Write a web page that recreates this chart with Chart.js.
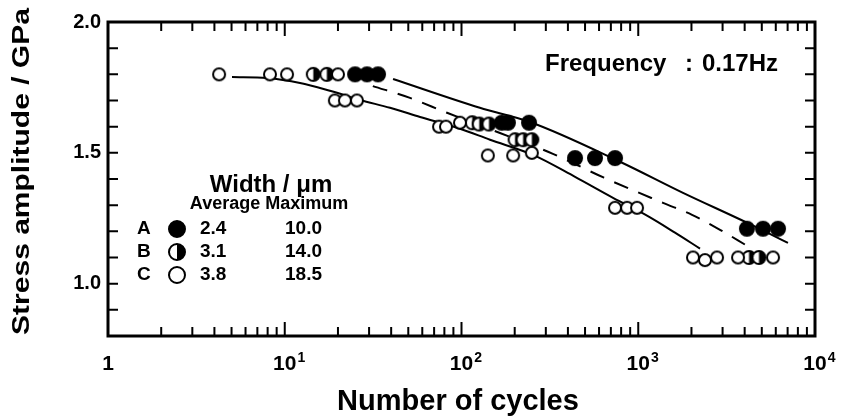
<!DOCTYPE html>
<html>
<head>
<meta charset="utf-8">
<script src="https://cdn.jsdelivr.net/npm/chart.js@4.4.1/dist/chart.umd.min.js"></script>
<style>
html, body { margin: 0; padding: 0; background: #fff; }
canvas { display: block; }
</style>
</head>
<body>
<canvas id="chart_dest" width="844" height="419"></canvas>
<script>
// measured points, A = filled, B = half filled, C = open
var cyclesA = [25, 29.2, 33.7, 169, 183, 241, 439, 569, 739, 4120, 5080, 6180];
var stressA = [1.80, 1.80, 1.80, 1.615, 1.615, 1.615, 1.48, 1.48, 1.48, 1.21, 1.21, 1.21];

var cyclesB = [14.5, 17.3, 115, 126, 143, 201, 223, 250, 4235, 4820];
var stressB = [1.80, 1.80, 1.615, 1.61, 1.61, 1.55, 1.55, 1.55, 1.10, 1.10];

var cyclesC = [4.25, 8.25, 10.3, 20.0, 19.2, 21.9, 25.6, 74.6, 81.7, 98, 141, 196, 250,
               739, 865, 984, 2040, 2385, 2790, 3670, 5790];
var stressC = [1.80, 1.80, 1.80, 1.80, 1.70, 1.70, 1.70, 1.60, 1.60, 1.615, 1.49, 1.49, 1.50,
               1.29, 1.29, 1.29, 1.10, 1.09, 1.10, 1.10, 1.10];

// curves drawn through each group
var curveAN = [41, 127, 244, 788, 1792, 4120, 7030];
var curveAS = [1.782, 1.672, 1.618, 1.466, 1.347, 1.233, 1.156];

var curveBN = [31.5, 51.1, 82.8, 165, 329, 640, 1380, 2015, 2900, 4120];
var curveBS = [1.755, 1.710, 1.653, 1.576, 1.496, 1.405, 1.309, 1.263, 1.206, 1.145];

var curveCN = [5.03, 7.94, 12.2, 18.0, 26.7, 39.4, 58.3, 98.1, 145, 254, 439, 720, 1121, 1614, 2236];
var curveCS = [1.790, 1.786, 1.767, 1.737, 1.702, 1.672, 1.637, 1.592, 1.550, 1.492, 1.408, 1.328, 1.260, 1.195, 1.134];

// axis ticks
var xTickVals = [1, 10, 100, 1000, 10000];
var xTickBase = ['1', '10', '10', '10', '10'];
var xTickExp = ['', '1', '2', '3', '4'];
var yTickVals = [1.0, 1.5, 2.0];
var yTickLabels = ['1.0', '1.5', '2.0'];

// legend table
var legendKeys = ['A', 'B', 'C'];
var legendAvg = ['2.4', '3.1', '3.8'];
var legendMax = ['10.0', '14.0', '18.5'];

var FONT = "'Liberation Sans', Arial, Helvetica, sans-serif";

function makeMarker(kind, r) {
  var c = document.createElement('canvas');
  var s = Math.ceil(2 * r + 4);
  c.width = s; c.height = s;
  var g = c.getContext('2d');
  var m = s / 2;
  g.lineWidth = 2;
  g.strokeStyle = '#000';
  g.fillStyle = '#fff';
  g.beginPath(); g.arc(m, m, r, 0, 2 * Math.PI); g.fill();
  if (kind === 'A') {
    g.fillStyle = '#000'; g.fill();
  } else if (kind === 'B') {
    g.fillStyle = '#000';
    g.beginPath(); g.arc(m, m, r, -Math.PI / 2, Math.PI / 2); g.closePath(); g.fill();
  }
  g.beginPath(); g.arc(m, m, r, 0, 2 * Math.PI); g.stroke();
  return c;
}

var markA = makeMarker('A', 7);
var markB = makeMarker('B', 6.5);
var markC = makeMarker('C', 6);
var legendMarks = [makeMarker('A', 8), makeMarker('B', 8), makeMarker('C', 8)];

function pts(xs, ys) {
  return xs.map(function (x, i) { return { x: x, y: ys[i] }; });
}

function curve(xs, ys, dash) {
  return {
    data: pts(xs, ys),
    showLine: true,
    borderColor: '#000',
    borderWidth: 2,
    borderDash: dash,
    pointRadius: 0,
    cubicInterpolationMode: 'monotone',
    order: 2
  };
}

function marks(xs, ys, img) {
  return {
    data: pts(xs, ys),
    showLine: false,
    pointStyle: img,
    pointRadius: 7,
    order: 1
  };
}

// frame, inward ticks and all the texts
var decorPlugin = {
  id: 'decor',
  afterDraw: function (chart) {
    var ctx = chart.ctx;
    var xs = chart.scales.x, ys = chart.scales.y;
    var a = chart.chartArea;
    ctx.save();
    ctx.strokeStyle = '#000';
    ctx.fillStyle = '#000';

    // ticks
    ctx.lineWidth = 2;
    ctx.beginPath();
    for (var v = 8; v <= 20; v++) {
      var py = ys.getPixelForValue(v / 10);
      ctx.moveTo(a.left, py); ctx.lineTo(a.left + 10, py);
      ctx.moveTo(a.right, py); ctx.lineTo(a.right - 10, py);
    }
    for (var d = 0; d < 4; d++) {
      for (var k = 1; k <= 10; k++) {
        var px = xs.getPixelForValue(k * Math.pow(10, d));
        var len = (k === 1 || k === 10) ? 14 : 9;
        ctx.moveTo(px, a.bottom); ctx.lineTo(px, a.bottom - len);
        ctx.moveTo(px, a.top); ctx.lineTo(px, a.top + len);
      }
    }
    ctx.stroke();

    // frame
    ctx.lineWidth = 3;
    ctx.strokeRect(a.left, a.top, a.right - a.left, a.bottom - a.top);

    // y tick labels
    ctx.font = 'bold 20px ' + FONT;
    ctx.textAlign = 'right';
    ctx.textBaseline = 'middle';
    yTickLabels.forEach(function (t, i) {
      ctx.fillText(t, a.left - 7, ys.getPixelForValue(yTickVals[i]));
    });

    // x tick labels with exponents
    ctx.textBaseline = 'alphabetic';
    xTickVals.forEach(function (v, i) {
      var px = xs.getPixelForValue(v);
      ctx.font = 'bold 21px ' + FONT;
      ctx.textAlign = 'center';
      ctx.fillText(xTickBase[i], px, 370);
      if (xTickExp[i]) {
        var w = ctx.measureText(xTickBase[i]).width;
        ctx.font = 'bold 14px ' + FONT;
        ctx.textAlign = 'left';
        ctx.fillText(xTickExp[i], px + w / 2 + 1, 362);
      }
    });

    // axis titles
    ctx.font = 'bold 29px ' + FONT;
    ctx.textAlign = 'center';
    ctx.fillText('Number of cycles', 458, 410);

    ctx.save();
    ctx.translate(22.5, 171.5);
    ctx.rotate(-Math.PI / 2);
    ctx.scale(1, 0.82);
    ctx.font = 'bold 30px ' + FONT;
    ctx.textBaseline = 'middle';
    ctx.fillText('Stress amplitude / GPa', 0, 0);
    ctx.restore();

    // frequency note
    ctx.font = 'bold 24px ' + FONT;
    ctx.textAlign = 'left';
    ctx.textBaseline = 'alphabetic';
    ctx.fillText('Frequency', 545, 71);
    ctx.fillText(':', 685, 71);
    ctx.fillText('0.17Hz', 702, 71);

    // legend table
    ctx.textAlign = 'center';
    ctx.textBaseline = 'middle';
    ctx.font = 'bold 24px ' + FONT;
    ctx.fillText('Width / \u03bcm', 271, 185);
    ctx.font = 'bold 18px ' + FONT;
    ctx.fillText('Average Maximum', 269, 204);
    ctx.textAlign = 'left';
    ctx.font = 'bold 19px ' + FONT;
    var rows = [229, 252, 275];
    legendKeys.forEach(function (k, i) {
      var y = rows[i];
      ctx.fillText(k, 137, y);
      var img = legendMarks[i];
      ctx.drawImage(img, 177 - img.width / 2, y - img.height / 2);
      ctx.fillText(legendAvg[i], 200, y);
      ctx.fillText(legendMax[i], 285, y);
    });

    ctx.restore();
  }
};

var ctx = document.getElementById('chart_dest');

var myChart = new Chart(ctx, {
  type: 'scatter',
  data: {
    datasets: [
      curve(curveAN, curveAS, []),
      curve(curveBN, curveBS, [15, 11]),
      curve(curveCN, curveCS, []),
      marks(cyclesC, stressC, markC),
      marks(cyclesB, stressB, markB),
      marks(cyclesA, stressA, markA)
    ]
  },
  options: {
    responsive: false,
    animation: false,
    devicePixelRatio: 1,
    layout: { padding: { left: 0, right: 29, top: 22, bottom: 0 } },
    plugins: {
      legend: { display: false },
      tooltip: { enabled: false }
    },
    scales: {
      x: {
        type: 'logarithmic',
        min: 1,
        max: 10000,
        grid: { display: false },
        border: { display: false },
        ticks: { display: false },
        afterFit: function (s) { s.height = 83; }
      },
      y: {
        type: 'linear',
        min: 0.8,
        max: 2.0,
        grid: { display: false },
        border: { display: false },
        ticks: { display: false },
        afterFit: function (s) { s.width = 108; }
      }
    }
  },
  plugins: [decorPlugin]
});
</script>
</body>
</html>
